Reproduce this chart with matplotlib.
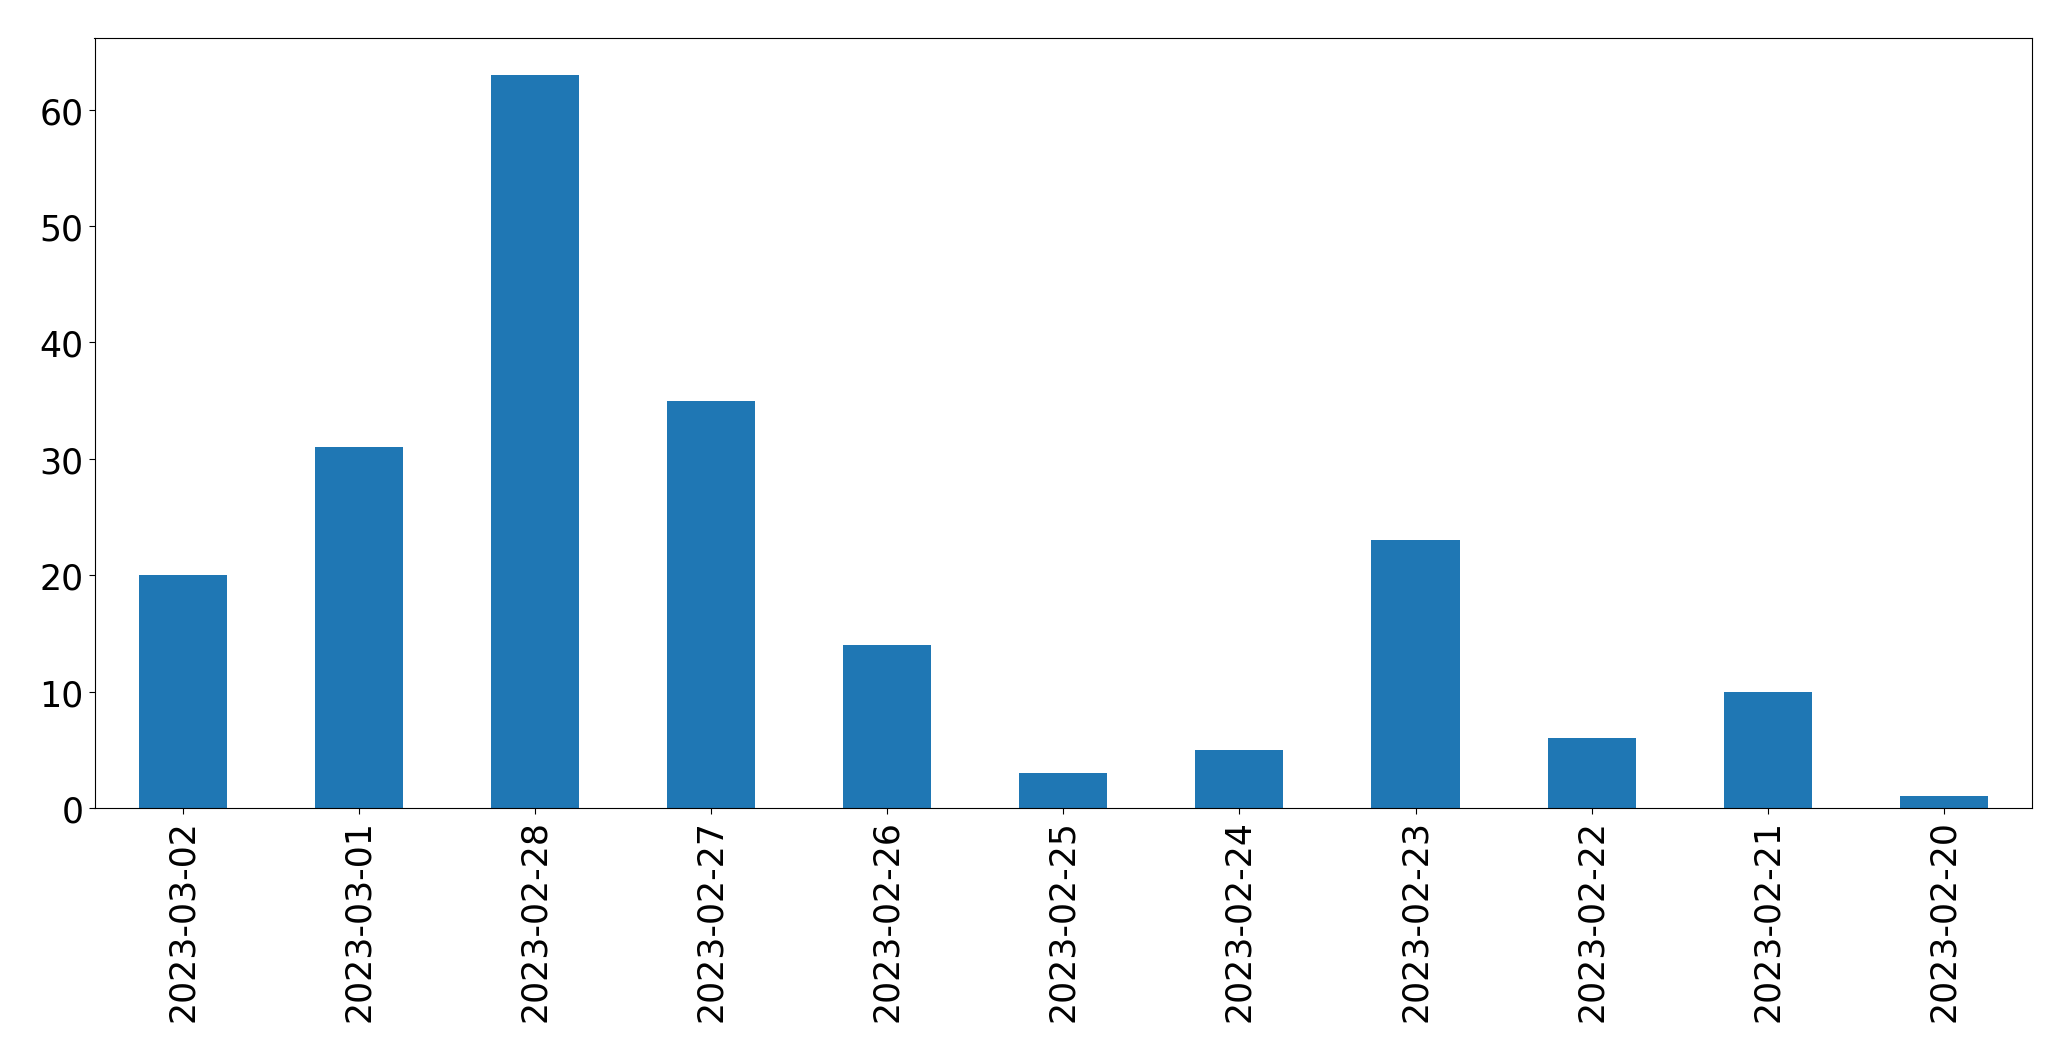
import matplotlib
matplotlib.use("Agg")
import matplotlib.pyplot as plt
import pandas as pd

dates = ["2023-03-02", "2023-03-01", "2023-02-28", "2023-02-27", "2023-02-26",
         "2023-02-25", "2023-02-24", "2023-02-23", "2023-02-22", "2023-02-21",
         "2023-02-20"]
counts = [20, 31, 63, 35, 14, 3, 5, 23, 6, 10, 1]

s = pd.Series(counts, index=dates)

fig, ax = plt.subplots(figsize=(20.71, 10.6099), dpi=100)
s.plot(kind="bar", ax=ax, color="#1f77b4")
ax.tick_params(labelsize=25, length=4.3)
fig.subplots_adjust(left=94.5 / 2071, right=2032 / 2071,
                    top=1 - 39 / 1061, bottom=1 - 809 / 1061)
fig.savefig("out.png", dpi=100)
